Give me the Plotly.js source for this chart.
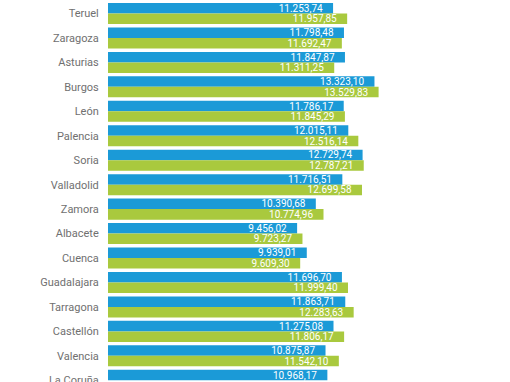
<!DOCTYPE html>
<html><head><meta charset="utf-8">
<script src="https://cdn.plot.ly/plotly-3.0.1.min.js"></script>
<style>html,body{margin:0;padding:0;background:#fff}</style>
</head><body>
<div id="chart" style="width:510px;height:382px"></div>
<script>
const categories = ["Teruel","Zaragoza","Asturias","Burgos","León","Palencia","Soria","Valladolid","Zamora","Albacete","Cuenca","Guadalajara","Tarragona","Castellón","Valencia","La Coruña"];
const seriesBlue = [11253.74,11798.48,11847.87,13323.10,11786.17,12015.11,12729.74,11716.51,10390.68,9456.02,9939.01,11696.70,11863.71,11275.08,10875.87,10968.17];
const seriesGreen = [11957.85,11692.47,11311.25,13529.83,11845.29,12516.14,12787.21,12699.58,10774.96,9723.27,9609.30,11999.40,12283.63,11806.17,11542.10,null];

function fmt(v){
  if (v === null) return "";
  const parts = v.toFixed(2).split(".");
  const int = parts[0].replace(/\B(?=(\d{3})+(?!\d))/g, ".");
  return int + "," + parts[1] + "\u00a0\u00a0\u00a0";
}

const common = {
  type: 'bar', orientation: 'h', y: categories,
  textposition: 'inside', insidetextanchor: 'end', textangle: 0,
  textfont: {color: '#ffffff', family: 'Roboto, sans-serif', size: 10},
  hoverinfo: 'none', cliponaxis: true
};
const data = [
  Object.assign({}, common, {x: seriesBlue, text: seriesBlue.map(fmt), marker: {color: '#1b9ad7'}}),
  Object.assign({}, common, {x: seriesGreen, text: seriesGreen.map(fmt), marker: {color: '#a9c93e'}})
];
const layout = {
  width: 510, height: 382,
  margin: {l: 108, r: 0, t: 0, b: 0, pad: 0},
  paper_bgcolor: '#fff', plot_bgcolor: '#fff',
  showlegend: false,
  barmode: 'group', bargap: 0.14, bargroupgap: 0,
  uniformtext: {mode: 'show', minsize: 10},
  xaxis: {range: [0, 20100], visible: false, fixedrange: true},
  yaxis: {
    type: 'category', range: [15.07, -0.552],
    showgrid: false, zeroline: false, showline: false,
    ticks: 'outside', ticklen: 6, tickcolor: 'rgba(0,0,0,0)',
    tickfont: {family: 'Roboto, sans-serif', size: 11, color: '#707070'}
  }
};
Plotly.newPlot('chart', data, layout, {displayModeBar: false, staticPlot: true});
</script>
</body></html>
